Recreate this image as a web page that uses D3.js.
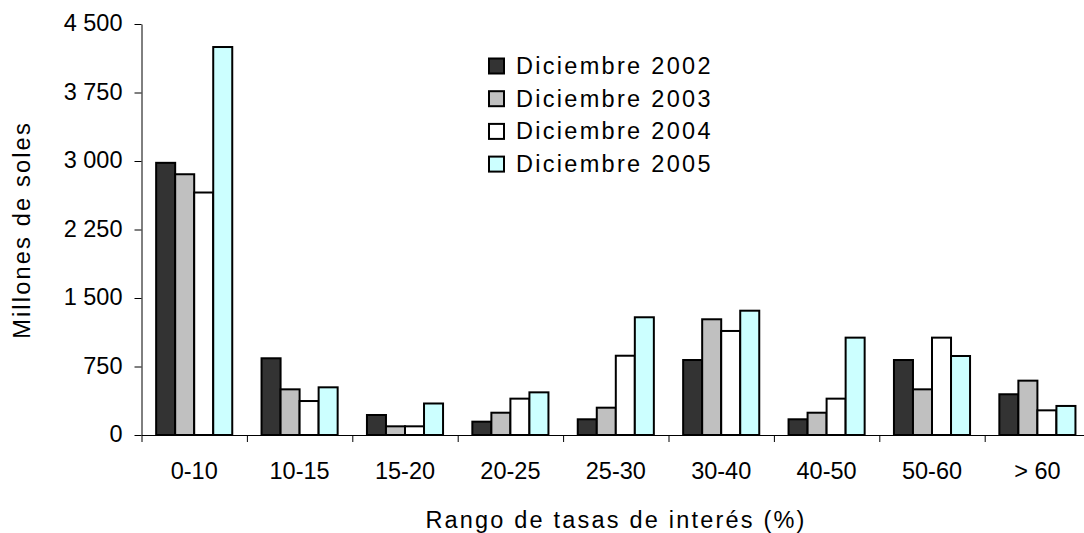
<html>
<script src="https://cdn.jsdelivr.net/npm/d3@7"></script>
<style>
body{
    margin:0;
    background:#fff;
}
text{
    font-family:"Liberation Sans", Arial, sans-serif;
    fill:#000;
}
</style>
<body>
<div class="chart"></div>
</body>
<script>
const width = 1084;
const height = 533;

// data
const categories = ['0-10', '10-15', '15-20', '20-25', '25-30', '30-40', '40-50', '50-60', '> 60'];
const seriesNames = ['Diciembre 2002', 'Diciembre 2003', 'Diciembre 2004', 'Diciembre 2005'];
const dic2002 = [2980, 840, 219, 146, 172, 821, 172, 821, 446];
const dic2003 = [2855, 500, 95, 244, 299, 1267, 244, 500, 595];
const dic2004 = [2655, 372, 95, 398, 868, 1139, 398, 1066, 270];
const dic2005 = [4248, 522, 345, 467, 1289, 1361, 1066, 865, 318];
const yTicks = [0, 750, 1500, 2250, 3000, 3750, 4500];
const yTickLabels = ['0', '750', '1 500', '2 250', '3 000', '3 750', '4 500'];
const colors = ['#333333', '#c0c0c0', '#ffffff', '#ccffff'];

const seriesValues = [dic2002, dic2003, dic2004, dic2005];
const rows = categories.map((c, i) => ({
    cat: c,
    values: seriesNames.map((s, j) => ({key: s, value: seriesValues[j][i], color: colors[j]}))
}));

const plotLeft = 141.5;
const step = 105.4;
const plotBottom = 435;
const plotTop = 24;

const svg = d3.select('.chart')
    .append('svg')
        .attr('width', width)
        .attr('height', height);

const x0 = d3.scaleBand()
    .domain(categories)
    .range([plotLeft, plotLeft + step * categories.length]);

const x1 = d3.scaleBand()
    .domain(seriesNames)
    .range([0, x0.bandwidth()])
    .paddingOuter(0.77);

const y = d3.scaleLinear()
    .domain([0, 4500])
    .range([plotBottom, plotTop]);

// bars
svg.append('g')
    .selectAll('g')
    .data(rows)
    .enter()
    .append('g')
        .attr('transform', d => `translate(${x0(d.cat)},0)`)
    .selectAll('rect')
    .data(d => d.values)
    .enter()
    .append('rect')
        .attr('x', d => x1(d.key))
        .attr('y', d => y(d.value))
        .attr('width', x1.bandwidth())
        .attr('height', d => y(0) - y(d.value))
        .attr('fill', d => d.color)
        .attr('stroke', '#000')
        .attr('stroke-width', 2);

// y axis
svg.append('g')
    .attr('transform', `translate(${plotLeft},0)`)
    .call(d3.axisLeft(y)
        .tickValues(yTicks)
        .tickFormat((d, i) => yTickLabels[i])
        .tickSize(7)
        .tickSizeOuter(0)
        .tickPadding(12))
    .call(g => {
        g.select('.domain').attr('stroke', '#000');
        g.selectAll('.tick line').attr('stroke', '#000');
        g.selectAll('.tick text')
            .attr('font-size', 23.5)
            .attr('font-family', '"Liberation Sans", Arial, sans-serif')
            .attr('fill', '#000')
            .attr('dy', '0.28em');
    });

// x axis: boundary ticks
const xb = d3.scaleLinear()
    .domain([0, categories.length])
    .range([plotLeft, plotLeft + step * categories.length]);

svg.append('g')
    .attr('transform', `translate(0,${plotBottom})`)
    .call(d3.axisBottom(xb)
        .tickValues(d3.range(categories.length + 1))
        .tickFormat('')
        .tickSize(7)
        .tickSizeOuter(0))
    .call(g => {
        g.select('.domain').attr('stroke', '#000');
        g.selectAll('.tick line').attr('stroke', '#000');
    });

// x axis: category labels
svg.append('g')
    .attr('transform', `translate(0,${plotBottom})`)
    .call(d3.axisBottom(x0).tickSize(0).tickPadding(27))
    .call(g => {
        g.select('.domain').remove();
        g.selectAll('.tick text')
            .attr('font-size', 23.5)
            .attr('font-family', '"Liberation Sans", Arial, sans-serif')
            .attr('fill', '#000')
            .attr('dy', '0.72em');
    });

// axis titles
svg.append('text')
    .attr('x', 616)
    .attr('y', 527.5)
    .attr('text-anchor', 'middle')
    .attr('font-size', 23.5)
    .attr('letter-spacing', 2.2)
    .text('Rango de tasas de interés (%)');

svg.append('text')
    .attr('transform', 'translate(29.5,230) rotate(-90)')
    .attr('text-anchor', 'middle')
    .attr('font-size', 23.5)
    .attr('letter-spacing', 2.2)
    .text('Millones de soles');

// legend
const legend = svg.append('g')
    .attr('transform', 'translate(489,58.5)')
    .selectAll('g')
    .data(seriesNames)
    .enter()
    .append('g')
        .attr('transform', (d, i) => `translate(0,${i * 32.7})`);

legend.append('rect')
    .attr('width', 15)
    .attr('height', 15)
    .attr('fill', (d, i) => colors[i])
    .attr('stroke', '#000')
    .attr('stroke-width', 2);

legend.append('text')
    .attr('x', 27)
    .attr('y', 15.5)
    .attr('font-size', 23.5)
    .attr('letter-spacing', 2.3)
    .text(d => d);
</script>
</html>
